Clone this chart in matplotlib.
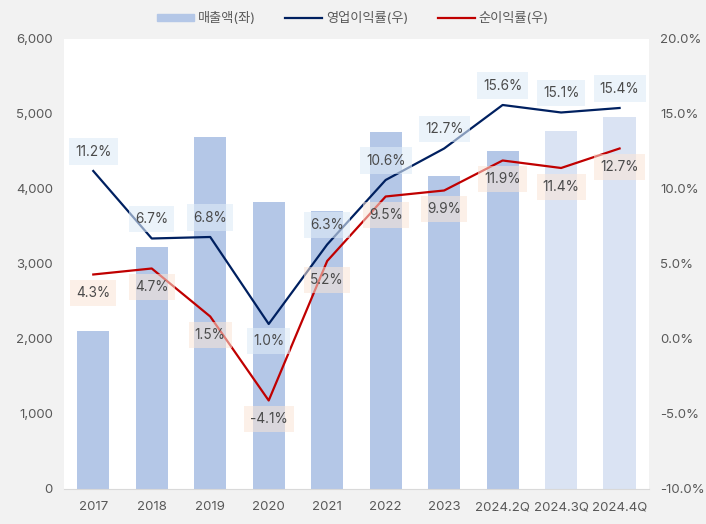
import matplotlib.pyplot as plt
from matplotlib.patches import Patch
from matplotlib.lines import Line2D

plt.rcParams['font.family'] = ['Inter', 'Noto Sans CJK KR', 'DejaVu Sans']

# data
categories = ['2017', '2018', '2019', '2020', '2021', '2022', '2023', '2024.2Q', '2024.3Q', '2024.4Q']
sales = [2105, 3225, 4695, 3825, 3705, 4760, 4170, 4505, 4775, 4960]
estimate = [False, False, False, False, False, False, False, False, True, True]
op_margin = [11.2, 6.7, 6.8, 1.0, 6.3, 10.6, 12.7, 15.6, 15.1, 15.4]
net_margin = [4.3, 4.7, 1.5, -4.1, 5.2, 9.5, 9.9, 11.9, 11.4, 12.7]
op_label_below = [False, False, False, True, False, False, False, False, False, False]

bar_col = '#b4c7e7'
bar_col_est = '#dae3f3'
op_col = '#002060'
net_col = '#c00000'
txt_col = '#595959'

fig = plt.figure(figsize=(7.06, 5.24), dpi=100)
fig.patch.set_facecolor('#f2f2f2')
ax = fig.add_axes([0.0907, 0.0668, 0.8283, 0.8588])
ax.set_facecolor('white')

x = list(range(len(categories)))
colors = [bar_col_est if e else bar_col for e in estimate]
ax.bar(x, sales, width=0.55, color=colors, zorder=2)
ax.set_ylim(0, 6000)
ax.set_xlim(-0.5, len(categories) - 0.5)
ax.set_yticks(range(0, 6001, 1000))
ax.set_yticklabels([f'{v:,}' for v in range(0, 6001, 1000)])
ax.set_xticks(x)
ax.set_xticklabels(categories)
ax.tick_params(length=0, colors=txt_col, labelsize=9.5)
ax.tick_params(axis='x', pad=9)
ax.tick_params(axis='y', pad=8)
for s in ['top', 'left', 'right']:
    ax.spines[s].set_visible(False)
ax.spines['bottom'].set_color('#d9d9d9')

ax2 = ax.twinx()
ax2.set_ylim(-10, 20)
ax2.set_yticks(range(-10, 21, 5))
ax2.set_yticklabels([f'{v:.1f}%' for v in range(-10, 21, 5)])
ax2.tick_params(length=0, colors=txt_col, labelsize=9.5, pad=8)
for s in ax2.spines.values():
    s.set_visible(False)

ax2.plot(x, op_margin, color=op_col, lw=1.6, zorder=3)
ax2.plot(x, net_margin, color=net_col, lw=1.6, zorder=3)

for i, v in enumerate(op_margin):
    dy = -12 if op_label_below[i] else 14
    ax2.annotate(f'{v:.1f}%', (i, v), xytext=(0, dy), textcoords='offset points',
                 ha='center', va='center', fontsize=9.8, color='#4a4a4a', zorder=4,
                 bbox=dict(boxstyle='square,pad=0.45', fc='#deebf7', ec='none', alpha=0.6))
for i, v in enumerate(net_margin):
    ax2.annotate(f'{v:.1f}%', (i, v), xytext=(0, -13.5), textcoords='offset points',
                 ha='center', va='center', fontsize=9.8, color='#4a4a4a', zorder=4,
                 bbox=dict(boxstyle='square,pad=0.45', fc='#fbe5d6', ec='none', alpha=0.55))

handles = [Patch(color=bar_col), Line2D([], [], color=op_col, lw=1.6),
           Line2D([], [], color=net_col, lw=1.6)]
labels = ['매출액(좌)', '영업이익률(우)', '순이익률(우)']
leg = fig.legend(handles, labels, loc='center', bbox_to_anchor=(0.5, 0.965), ncol=3,
                 frameon=False, fontsize=9.5, handlelength=2.8, handleheight=0.45,
                 columnspacing=2.2, handletextpad=0.3)
for t in leg.get_texts():
    t.set_color(txt_col)

fig.savefig('out.png', dpi=100, facecolor=fig.get_facecolor())
